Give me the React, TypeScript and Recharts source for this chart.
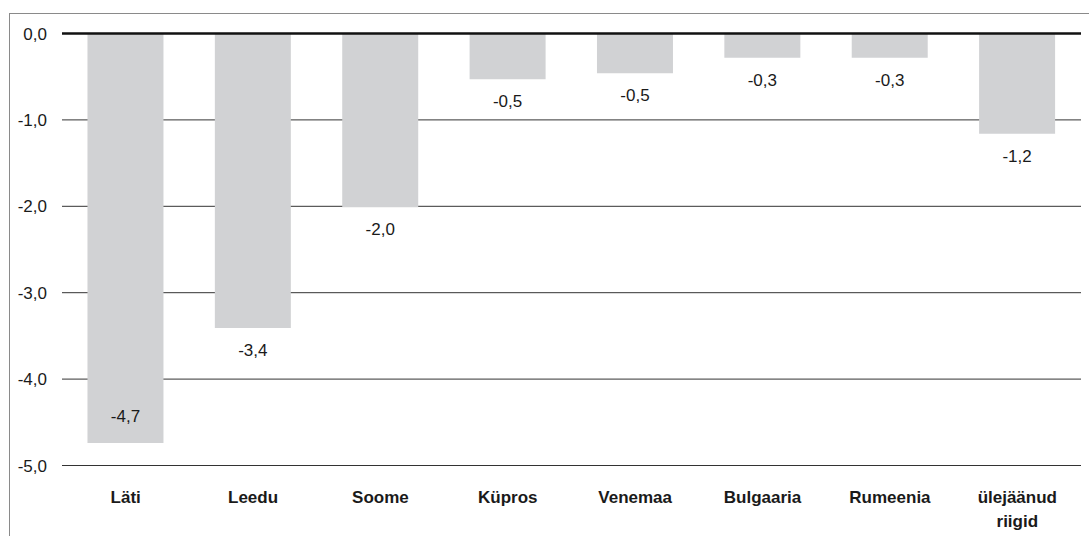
import React from 'react';
import { BarChart, Bar, XAxis, YAxis, CartesianGrid, ReferenceLine, LabelList } from 'recharts';

const categories = ['Läti', 'Leedu', 'Soome', 'Küpros', 'Venemaa', 'Bulgaaria', 'Rumeenia', 'ülejäänud riigid'];
const values = [-4.74, -3.41, -2.01, -0.53, -0.46, -0.28, -0.28, -1.16];
const labels = ['-4,7', '-3,4', '-2,0', '-0,5', '-0,5', '-0,3', '-0,3', '-1,2'];
const yTicks = [0, -1, -2, -3, -4, -5];

const data = categories.map((c, i) => ({ name: c, value: values[i], label: labels[i] }));

const FONT = '"Liberation Sans", Arial, Helvetica, sans-serif';
const PLOT_BOTTOM = 465.5;

const fmt = (v: number) => v.toFixed(1).replace('.', ',');

const XTick = (props: any) => {
  const { x, y, payload } = props;
  const parts = String(payload.value).split(' ');
  return (
    <text x={x} y={y} textAnchor="middle" fontFamily={FONT} fontSize={17} fontWeight="bold" fill="#1a1a1a">
      {parts.map((p: string, i: number) => (
        <tspan key={i} x={x} dy={i === 0 ? 6 : 24}>{p}</tspan>
      ))}
    </text>
  );
};

const BarLabel = (props: any) => {
  const { x, y, width, height, index } = props;
  const bottom = Math.max(y, y + height);
  let cy = bottom + 22;
  if (cy > PLOT_BOTTOM - 16) cy = bottom - 27;
  return (
    <text x={x + width / 2} y={cy} dy={6} textAnchor="middle" fontFamily={FONT} fontSize={17} fill="#1a1a1a">
      {labels[index]}
    </text>
  );
};

export default function App() {
  return (
    <div style={{ position: 'absolute', left: 0, top: 0, width: 1089, height: 536, background: '#fff' }}>
      <div style={{ position: 'absolute', left: 9, top: 13, right: 0, bottom: 0, borderLeft: '1.5px solid #8a8a8a', borderTop: '1.5px solid #8a8a8a' }} />
      <div style={{ position: 'absolute', left: 0, top: 0 }}>
        <BarChart width={1089} height={536} data={data} margin={{ top: 33.5, right: 8, bottom: 10, left: 0 }} barCategoryGap="20%">
          <CartesianGrid vertical={false} stroke="#333" strokeWidth={1} />
          <XAxis dataKey="name" orientation="bottom" axisLine={false} tickLine={false} height={60.5} tickSize={0} tickMargin={31} tick={<XTick />} interval={0} />
          <YAxis domain={[-5, 0]} ticks={yTicks} width={62} axisLine={false} tickLine={false} tickSize={0} tickMargin={15}
            tickFormatter={fmt} tick={{ fontFamily: FONT, fontSize: 17, fill: '#1a1a1a' }} interval={0} />
          <Bar dataKey="value" fill="#d1d2d4" isAnimationActive={false}>
            <LabelList dataKey="value" content={<BarLabel />} />
          </Bar>
          <ReferenceLine y={0} stroke="#111" strokeWidth={2.5} />
        </BarChart>
      </div>
    </div>
  );
}
